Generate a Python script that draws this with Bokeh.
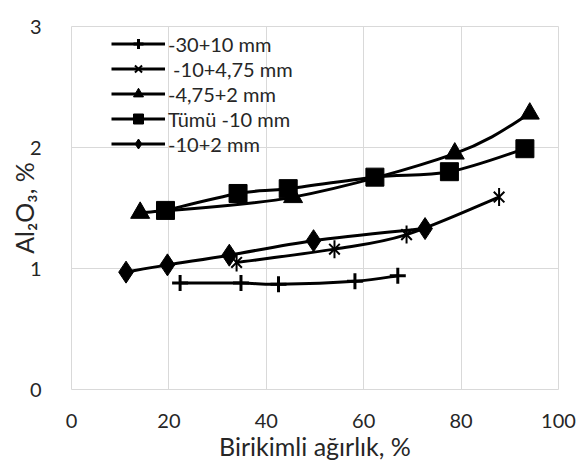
import numpy as np
from bokeh.plotting import figure
from bokeh.models import Range1d, Legend, LegendItem, BoxAnnotation, FixedTicker
from bokeh.embed import file_html
from bokeh.resources import INLINE

# Al2O3 content (%) against cumulative weight (%) for each size fraction
x_30_10 = [22.3, 34.8, 42.5, 58.2, 67.0]
y_30_10 = [0.88, 0.88, 0.87, 0.895, 0.94]

x_10_475 = [33.9, 54.0, 68.8, 87.8]
y_10_475 = [1.05, 1.16, 1.28, 1.59]

x_475_2 = [14.1, 45.5, 78.7, 94.1]
y_475_2 = [1.46, 1.59, 1.95, 2.28]

x_all = [19.3, 34.2, 44.5, 62.3, 77.6, 93.1]
y_all = [1.48, 1.62, 1.66, 1.755, 1.80, 1.99]

x_10_2 = [11.2, 19.7, 32.4, 49.7, 72.6]
y_10_2 = [0.97, 1.03, 1.11, 1.23, 1.33]

labels = ["-30+10 mm", "\u00a0-10+4,75 mm", "-4,75+2 mm", "Tümü -10 mm", "-10+2 mm"]
x_ticks = [0, 20, 40, 60, 80, 100]
y_ticks = [0, 1, 2, 3]

FONT = "Lato"
TEXT = "#262626"
GRID = "#d9d9d9"
LW = 3

FL, FR, FT, FB = 71, 30, 26, 73      # borders around the plot frame
FW, FH = 588 - FL - FR, 462 - FT - FB

p = figure(frame_width=FW, frame_height=FH,
           min_border_left=FL, min_border_right=FR,
           min_border_top=FT, min_border_bottom=FB,
           x_range=Range1d(0, 100), y_range=Range1d(0, 3),
           output_backend="svg", toolbar_location=None)

p.background_fill_color = "white"
p.border_fill_color = "white"
p.outline_line_color = GRID

for ax in (p.xaxis[0], p.yaxis[0]):
    ax.axis_line_color = None
    ax.major_tick_line_color = None
    ax.minor_tick_line_color = None
    ax.major_label_text_font = FONT
    ax.major_label_text_font_size = "20px"
    ax.major_label_text_color = TEXT
    ax.axis_label_text_font = FONT
    ax.axis_label_text_font_size = "25px"
    ax.axis_label_text_font_style = "normal"
    ax.axis_label_text_color = TEXT

p.xaxis.ticker = FixedTicker(ticks=x_ticks)
p.yaxis.ticker = FixedTicker(ticks=y_ticks)
p.xaxis.major_label_standoff = 18
p.yaxis.major_label_standoff = 24
p.xaxis.axis_label = "Birikimli ağırlık, %"
p.yaxis.axis_label = "Al\u2082O\u2083, %"
p.xaxis.axis_label_standoff = 0
p.yaxis.axis_label_standoff = -12

p.xgrid.grid_line_color = GRID
p.ygrid.grid_line_color = GRID
p.xgrid.ticker = FixedTicker(ticks=x_ticks)
p.ygrid.ticker = FixedTicker(ticks=y_ticks)


def smooth(xs, ys):
    """Cubic Bezier pieces through the points (Catmull-Rom style tangents)."""
    xs = np.asarray(xs, float)
    ys = np.asarray(ys, float)
    n = len(xs)
    px = np.concatenate([[xs[0]], xs, [xs[-1]]])
    py = np.concatenate([[ys[0]], ys, [ys[-1]]])
    return dict(
        x0=xs[:-1], y0=ys[:-1], x1=xs[1:], y1=ys[1:],
        cx0=xs[:-1] + (xs[1:] - px[0:n - 1]) / 6,
        cy0=ys[:-1] + (ys[1:] - py[0:n - 1]) / 6,
        cx1=xs[1:] - (px[3:n + 2] - xs[:-1]) / 6,
        cy1=ys[1:] - (py[3:n + 2] - ys[:-1]) / 6,
    )


series = [
    (x_30_10, y_30_10, [("cross", 16, 0.0)], 3),
    (x_10_475, y_10_475, [("x", 15, 0.0), ("dash", 18, np.pi / 2)], 2),
    (x_475_2, y_475_2, [("triangle", 19, 0.0)], 0),
    (x_all, y_all, [("square", 18, 0.0)], 0),
    (x_10_2, y_10_2, [("diamond", 22, 0.0)], 0),
]

items = []
for (xs, ys, markers, mlw), label in zip(series, labels):
    p.bezier(line_color="black", line_width=LW, **smooth(xs, ys))
    # legend key line (the drawn curve above carries the data)
    key = p.line(xs, ys, line_color="black", line_width=LW, visible=False)
    rs = [key]
    for marker, size, angle in markers:
        rs.append(p.scatter(xs, ys, marker=marker, size=size, angle=angle,
                            fill_color="black", line_color="black",
                            line_width=mlw if mlw else 1))
    items.append(LegendItem(label=label, renderers=rs))

n = len(items)
row_h, gap = 25, 0
leg_h = n * row_h + (n - 1) * gap
legend = Legend(items=items, location=(40, FH - 5 - leg_h),
                glyph_width=54, glyph_height=row_h, label_height=row_h,
                spacing=gap, padding=0, margin=0, label_standoff=3,
                label_text_font=FONT, label_text_font_size="20px",
                label_text_color=TEXT, border_line_color=None,
                background_fill_alpha=0)
p.add_layout(legend, "center")

# outer chart border
p.add_layout(BoxAnnotation(left=9 - FL, right=586 - FL, top=5 - FT, bottom=FH + 60,
                           left_units="screen", right_units="screen",
                           top_units="screen", bottom_units="screen",
                           fill_alpha=0, line_color="#595959", line_width=1,
                           level="overlay"))

open("out.html", "w").write(file_html(p, INLINE))
